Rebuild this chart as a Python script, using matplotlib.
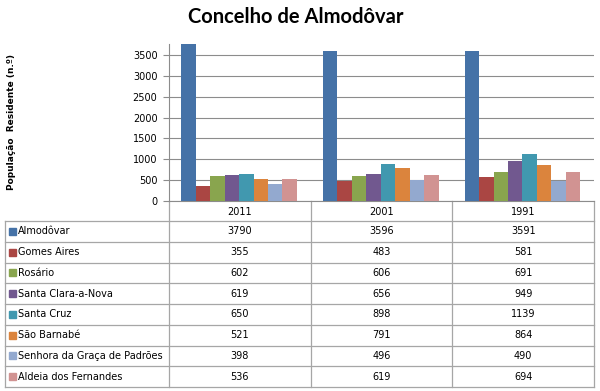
import matplotlib.pyplot as plt
import numpy as np

years = ["2011", "2001", "1991"]
freguesias = [
    "Almodôvar",
    "Gomes Aires",
    "Rosário",
    "Santa Clara-a-Nova",
    "Santa Cruz",
    "São Barnabé",
    "Senhora da Graça de Padrões",
    "Aldeia dos Fernandes",
]
almodovar = [3790, 3596, 3591]
gomes_aires = [355, 483, 581]
rosario = [602, 606, 691]
santa_clara = [619, 656, 949]
santa_cruz = [650, 898, 1139]
sao_barnabe = [521, 791, 864]
senhora_graca = [398, 496, 490]
aldeia_fernandes = [536, 619, 694]
series = [almodovar, gomes_aires, rosario, santa_clara,
          santa_cruz, sao_barnabe, senhora_graca, aldeia_fernandes]

colors = ["#4572A7", "#AA4643", "#89A54E", "#71588F",
          "#4198AF", "#DB843D", "#93A9CF", "#D19392"]

W, H = 600, 391
GRID = "#8c8c8c"
LINE = "#a6a6a6"

# pixel layout of the excel-like chart
PX_LEFT, PX_RIGHT = 169, 594
PX_TOP, PX_ZERO = 44, 201
ROW_TOP, ROW_H = 221, 20.75
TABLE_LEFT = 5


def main():
    fig = plt.figure(figsize=(W / 100, H / 100), dpi=100)

    ax = fig.add_axes([PX_LEFT / W, 1 - PX_ZERO / H,
                       (PX_RIGHT - PX_LEFT) / W, (PX_ZERO - PX_TOP) / H])
    x = np.arange(len(years))
    bw = 0.102
    for i, (vals, c) in enumerate(zip(series, colors)):
        ax.bar(x + (i - 3.5) * bw - 0.005, vals, bw, color=c, zorder=3)

    ax.set_xlim(-0.5, len(years) - 0.5)
    ax.set_ylim(0, 3765)
    ax.set_yticks(np.arange(0, 3501, 500))
    ax.set_xticks([])
    ax.tick_params(axis="y", labelsize=7, length=4.3, width=0.8,
                   color=GRID, pad=4)
    ax.grid(axis="y", color=GRID, linewidth=0.8, zorder=0)
    for s in ["top", "right"]:
        ax.spines[s].set_visible(False)
    ax.spines["left"].set_color(GRID)
    ax.spines["bottom"].set_color(GRID)
    ax.set_facecolor("none")

    # data table drawn in pixel coordinates
    tab = fig.add_axes([0, 0, 1, 1], zorder=-1)
    tab.set_xlim(0, W)
    tab.set_ylim(H, 0)
    tab.axis("off")

    col_w = (PX_RIGHT - PX_LEFT) / len(years)
    bottom = ROW_TOP + ROW_H * len(freguesias)
    # vertical lines
    for k in range(len(years) + 1):
        xx = PX_LEFT + k * col_w
        tab.plot([xx, xx], [PX_ZERO, bottom], color=LINE, lw=0.9)
    tab.plot([TABLE_LEFT, TABLE_LEFT], [ROW_TOP, bottom], color=LINE, lw=0.9)
    # horizontal lines
    for r in range(len(freguesias) + 1):
        yy = ROW_TOP + r * ROW_H
        tab.plot([TABLE_LEFT, PX_RIGHT], [yy, yy], color=LINE, lw=0.9)

    for k, yr in enumerate(years):
        tab.text(PX_LEFT + (k + 0.5) * col_w, (PX_ZERO + ROW_TOP) / 2 + 1, yr,
                 ha="center", va="center", fontsize=7)

    for r, (name, vals, c) in enumerate(zip(freguesias, series, colors)):
        yc = ROW_TOP + (r + 0.5) * ROW_H
        tab.add_patch(plt.Rectangle((8.5, yc - 3.5), 7, 7, color=c))
        tab.text(18, yc, name, ha="left", va="center", fontsize=7)
        for k, v in enumerate(vals):
            tab.text(PX_LEFT + (k + 0.5) * col_w, yc, str(v),
                     ha="center", va="center", fontsize=7)

    fig.text(296 / W, 1 - 17 / H, "Concelho de Almodôvar", ha="center",
             va="center", fontsize=14.5, fontweight="bold", family="Lato")
    fig.text(12 / W, 1 - 122 / H, "População  Residente (n.º)", rotation=90,
             ha="center", va="center", fontsize=6.5, fontweight="bold")

    fig.savefig("out.png", dpi=100)
    plt.close(fig)


if __name__ == "__main__":
    main()
